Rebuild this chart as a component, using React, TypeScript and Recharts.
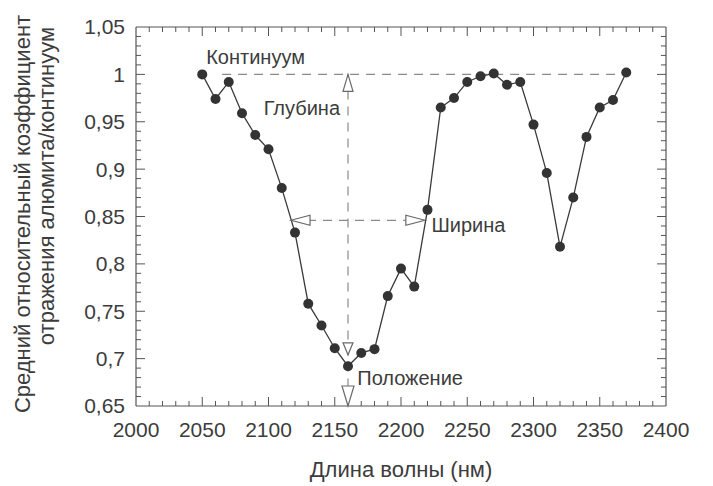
import { LineChart, Line, XAxis, YAxis, ReferenceLine, ReferenceDot } from 'recharts'

// длина волны, нм
const wavelengths = [
  2050, 2060, 2070, 2080, 2090, 2100, 2110, 2120, 2130, 2140, 2150,
  2160, 2170, 2180, 2190, 2200, 2210, 2220, 2230, 2240, 2250, 2260,
  2270, 2280, 2290, 2300, 2310, 2320, 2330, 2340, 2350, 2360, 2370,
]
// отражение / континуум
const reflectance = [
  1.0, 0.974, 0.992, 0.959, 0.936, 0.921, 0.88, 0.833, 0.758, 0.735, 0.711,
  0.692, 0.706, 0.71, 0.766, 0.795, 0.776, 0.857, 0.965, 0.975, 0.992, 0.998,
  1.001, 0.989, 0.992, 0.947, 0.896, 0.818, 0.87, 0.934, 0.965, 0.973, 1.002,
]
const xTicks = [2000, 2050, 2100, 2150, 2200, 2250, 2300, 2350, 2400]
const yTicks = [0.65, 0.7, 0.75, 0.8, 0.85, 0.9, 0.95, 1, 1.05]

// разметка полосы поглощения
const continuumLevel = 1.0
const continuumFrom = 2065
const continuumTo = 2370
const bandCenter = 2160
const bandMin = 0.704
const halfDepth = 0.846
const widthLeft = 2117
const widthRight = 2218

const data = wavelengths.map((w, i) => ({ w, r: reflectance[i] }))

const X0 = 2000
const X1 = 2400
const Y0 = 0.65
const Y1 = 1.05

// второстепенные деления
const xMinor: number[] = []
for (let i = 0; i < xTicks.length - 1; i++) {
  for (let k = 1; k < 5; k++) xMinor.push(xTicks[i] + k * 10)
}
const yMinor: number[] = []
for (let k = 66; k < 105; k++) if (k % 5 !== 0) yMinor.push(k / 100)

const FONT = '"Liberation Sans", Arial, sans-serif'
const TEXT = '#3c3c3c'
const AXIS = '#555'
const DASH = '#8a8a8a'

// длина делений в единицах данных (~9px и ~5px)
const XT_MAJ = 0.0095
const XT_MIN = 0.0053
const YT_MAJ = 6.8
const YT_MIN = 3.8

const fmt = (v: number) => {
  let s = v.toFixed(2)
  s = s.replace(/0+$/, '').replace(/\.$/, '')
  return s.replace('.', ',')
}

type Dir = 'up' | 'down' | 'left' | 'right'

const arrowShape = (dir: Dir, len: number, half: number) => (p: any) => {
  const { cx, cy } = p
  let d = ''
  if (dir === 'up') d = `M${cx},${cy} L${cx - half},${cy + len} L${cx + half},${cy + len} Z`
  if (dir === 'down') d = `M${cx},${cy} L${cx - half},${cy - len} L${cx + half},${cy - len} Z`
  if (dir === 'left') d = `M${cx},${cy} L${cx + len},${cy - half} L${cx + len},${cy + half} Z`
  if (dir === 'right') d = `M${cx},${cy} L${cx - len},${cy - half} L${cx - len},${cy + half} Z`
  return <path d={d} fill="#fff" stroke="#6a6a6a" strokeWidth={1.2} />
}

const textShape = (value: string, anchor: 'start' | 'end' | 'middle') => (p: any) => (
  <text x={p.cx} y={p.cy} dy="0.35em" textAnchor={anchor} fill={TEXT} fontSize={20} fontFamily={FONT}>
    {value}
  </text>
)

const yTitle = () => (
  <g fill={TEXT} fontSize={22} fontFamily={FONT}>
    <text x={0} y={0} transform="translate(22,214) rotate(-90)" textAnchor="middle" dy="0.35em">
      Средний относительный коэффициент
    </text>
    <text x={0} y={0} transform="translate(46,186) rotate(-90)" textAnchor="middle" dy="0.35em">
      отражения алюмита/континуум
    </text>
  </g>
)

export default function App() {
  return (
    <div style={{ position: 'absolute', left: 0, top: 0, background: '#fff' }}>
      <LineChart width={713} height={486} data={data} margin={{ top: 27, right: 47, bottom: 0, left: 0 }}>
        <XAxis
          dataKey="w"
          type="number"
          domain={[X0, X1]}
          ticks={xTicks}
          allowDataOverflow
          axisLine={false}
          tickLine={false}
          tickSize={0}
          tickMargin={16}
          height={80}
          tick={{ fill: TEXT, fontSize: 21, fontFamily: FONT }}
          label={{ value: 'Длина волны (нм)', position: 'insideBottom', offset: 9, fill: TEXT, fontSize: 22, fontFamily: FONT }}
        />
        <YAxis
          type="number"
          domain={[Y0, Y1]}
          ticks={yTicks}
          allowDataOverflow
          axisLine={false}
          tickLine={false}
          tickSize={0}
          tickMargin={11}
          width={136}
          tickFormatter={fmt}
          tick={{ fill: TEXT, fontSize: 21, fontFamily: FONT }}
          label={yTitle}
        />

        {/* рамка */}
        <ReferenceLine x={X0} stroke={AXIS} strokeWidth={1.2} />
        <ReferenceLine x={X1} stroke={AXIS} strokeWidth={1.2} />
        <ReferenceLine y={Y0} stroke={AXIS} strokeWidth={1.2} />
        <ReferenceLine y={Y1} stroke={AXIS} strokeWidth={1.2} />

        {/* деления внутрь */}
        {xTicks.slice(1, -1).map((v) => (
          <ReferenceLine key={`xb${v}`} segment={[{ x: v, y: Y0 }, { x: v, y: Y0 + XT_MAJ }]} stroke={AXIS} />
        ))}
        {xTicks.slice(1, -1).map((v) => (
          <ReferenceLine key={`xt${v}`} segment={[{ x: v, y: Y1 }, { x: v, y: Y1 - XT_MAJ }]} stroke={AXIS} />
        ))}
        {xMinor.map((v) => (
          <ReferenceLine key={`xbm${v}`} segment={[{ x: v, y: Y0 }, { x: v, y: Y0 + XT_MIN }]} stroke={AXIS} />
        ))}
        {xMinor.map((v) => (
          <ReferenceLine key={`xtm${v}`} segment={[{ x: v, y: Y1 }, { x: v, y: Y1 - XT_MIN }]} stroke={AXIS} />
        ))}
        {yTicks.slice(1, -1).map((v) => (
          <ReferenceLine key={`yl${v}`} segment={[{ x: X0, y: v }, { x: X0 + YT_MAJ, y: v }]} stroke={AXIS} />
        ))}
        {yTicks.slice(1, -1).map((v) => (
          <ReferenceLine key={`yr${v}`} segment={[{ x: X1, y: v }, { x: X1 - YT_MAJ, y: v }]} stroke={AXIS} />
        ))}
        {yMinor.map((v) => (
          <ReferenceLine key={`ylm${v}`} segment={[{ x: X0, y: v }, { x: X0 + YT_MIN, y: v }]} stroke={AXIS} />
        ))}
        {yMinor.map((v) => (
          <ReferenceLine key={`yrm${v}`} segment={[{ x: X1, y: v }, { x: X1 - YT_MIN, y: v }]} stroke={AXIS} />
        ))}

        {/* континуум, глубина, ширина */}
        <ReferenceLine
          segment={[{ x: continuumFrom, y: continuumLevel }, { x: continuumTo, y: continuumLevel }]}
          stroke={DASH}
          strokeDasharray="9 7"
          strokeWidth={1.2}
        />
        <ReferenceLine
          segment={[{ x: bandCenter, y: continuumLevel }, { x: bandCenter, y: Y0 }]}
          stroke={DASH}
          strokeDasharray="9 7"
          strokeWidth={1.2}
        />
        <ReferenceLine
          segment={[{ x: widthLeft, y: halfDepth }, { x: widthRight, y: halfDepth }]}
          stroke={DASH}
          strokeDasharray="9 7"
          strokeWidth={1.2}
        />

        <Line
          type="linear"
          dataKey="r"
          stroke="#3a3a3a"
          strokeWidth={1.3}
          dot={{ r: 5, fill: '#333', stroke: '#333', strokeWidth: 0 }}
          isAnimationActive={false}
        />

        <ReferenceDot x={bandCenter} y={continuumLevel} shape={arrowShape('up', 17, 5)} />
        <ReferenceDot x={bandCenter} y={bandMin} shape={arrowShape('down', 12, 5)} />
        <ReferenceDot x={bandCenter} y={Y0} shape={arrowShape('down', 20, 6)} />
        <ReferenceDot x={widthLeft} y={halfDepth} shape={arrowShape('left', 19, 5)} />
        <ReferenceDot x={widthRight} y={halfDepth} shape={arrowShape('right', 19, 5)} />

        <ReferenceDot x={2053} y={1.018} shape={textShape('Континуум', 'start')} />
        <ReferenceDot x={2154} y={0.9645} shape={textShape('Глубина', 'end')} />
        <ReferenceDot x={2223} y={0.841} shape={textShape('Ширина', 'start')} />
        <ReferenceDot x={2167} y={0.6796} shape={textShape('Положение', 'start')} />
      </LineChart>
    </div>
  )
}
